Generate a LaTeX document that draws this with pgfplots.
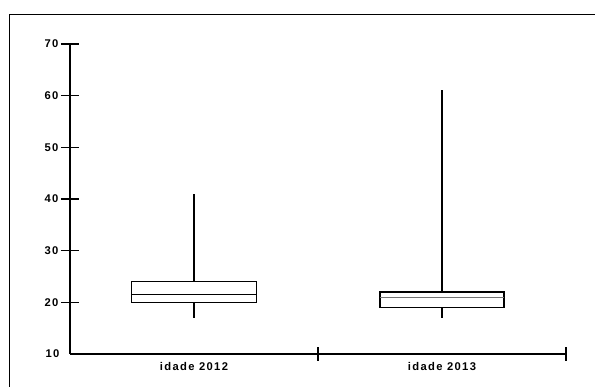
\documentclass[border=0pt]{standalone}
\usepackage{fontspec}
\setmainfont{Liberation Sans}[LetterSpace=12]
\usepackage{pgfplots}
\pgfplotsset{compat=1.18}
\begin{document}
\begin{tikzpicture}
\path[use as bounding box] (0pt,0pt) rectangle (595pt,387pt);
\draw[line width=1pt] (9.5pt,0pt) -- (9.5pt,372pt) -- (595pt,372pt);
\begin{axis}[
  at={(70pt,33pt)}, anchor=south west, scale only axis,
  width=496pt, height=310pt,
  xmin=0, xmax=2, ymin=10, ymax=70,
  axis x line=bottom, axis y line=left,
  axis line style={-, line width=1.2pt, black},
  tick align=center,
  major tick length=18pt, minor tick length=14pt,
  every tick/.append style={line width=1.2pt, black},
  ytick={20,30,40,50,60,70},
  extra y ticks={10},
  extra y tick style={major tick length=0pt, yticklabel style={xshift=-8pt}},
  xtick={0.5,1.5}, xticklabels={idade 2012, idade 2013},
  major x tick style={draw=none},
  minor xtick={1,2},
  /pgf/number format/assume math mode=true,
  ticklabel style={font=\bfseries\fontsize{11.2}{13}\selectfont},
  yticklabel style={anchor=east, xshift=1pt},
  xticklabel style={anchor=center, yshift=-4pt},
  clip=false,
]
% idade 2012: whiskers 17-41, quartiles 20-24, median 21.5
\addplot[black, line width=1.3pt] coordinates {(0.5,24) (0.5,41)};
\addplot[black, line width=1.3pt] coordinates {(0.5,17) (0.5,20)};
\addplot[black, line width=1.1pt] coordinates {(0.247,20) (0.753,20) (0.753,24) (0.247,24)} -- cycle;
\addplot[black, line width=0.8pt] coordinates {(0.247,21.5) (0.753,21.5)};
% idade 2013: whiskers 17-61, quartiles 19-22, median 21
\addplot[black, line width=1.3pt] coordinates {(1.5,22) (1.5,61)};
\addplot[black, line width=1.3pt] coordinates {(1.5,17) (1.5,19)};
\addplot[black, line width=1.1pt] coordinates {(1.25,19) (1.75,19) (1.75,22) (1.25,22)} -- cycle;
\addplot[black!55, line width=1pt] coordinates {(1.25,21) (1.75,21)};
\end{axis}
\end{tikzpicture}
\end{document}
